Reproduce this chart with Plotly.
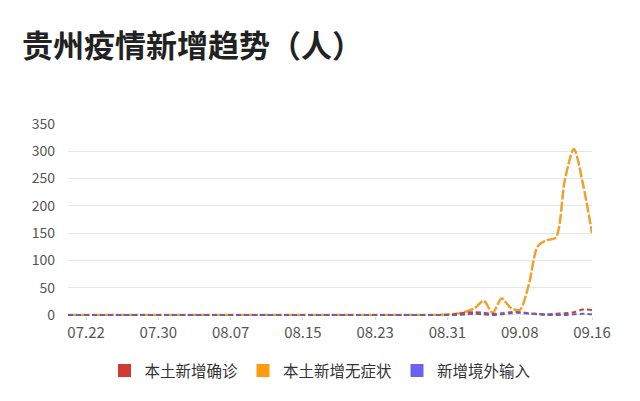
import pandas as pd
import plotly.graph_objects as go

# daily dates 07.20 .. 09.16 (category labels)
dates = list(pd.date_range("2022-07-20", "2022-09-16").strftime("%m.%d"))
tick_labels = ["07.22", "07.30", "08.07", "08.15", "08.23", "08.31", "09.08", "09.16"]

local_confirmed = [
    0, 0, 0, 0, 0, 0, 0, 0, 0, 0,
    0, 0, 0, 0, 0, 0, 0, 0, 0, 0,
    0, 0, 0, 0, 0, 0, 0, 0, 0, 0,
    0, 0, 0, 0, 0, 0, 0, 0, 0, 0,
    0, 0, 0, 2, 4, 5, 4, 2, 3, 5,
    5, 3, 2, 1, 2, 3, 5, 10, 9,
]
local_asymptomatic = [
    0, 0, 0, 0, 0, 0, 0, 0, 0, 0,
    0, 0, 0, 0, 0, 0, 0, 0, 0, 0,
    0, 0, 0, 0, 0, 0, 0, 0, 0, 0,
    0, 0, 0, 0, 0, 0, 0, 0, 0, 0,
    0, 0, 1, 2, 6, 12, 26, 4, 30, 13,
    9, 55, 126, 137, 142, 248, 304, 240, 150,
]
imported = [
    0, 0, 0, 0, 0, 0, 0, 0, 0, 0,
    0, 0, 0, 0, 0, 0, 0, 0, 0, 0,
    0, 0, 0, 0, 0, 0, 0, 0, 0, 0,
    0, 0, 0, 0, 0, 0, 0, 0, 0, 0,
    0, 0, 0, 0, 1, 2, 1, 0, 1, 3,
    4, 2, 1, 0, 0, 0, 1, 2, 1,
]

series = [
    ("本土新增确诊", local_confirmed, "#d43a35", "#c9413c", 2),
    ("本土新增无症状", local_asymptomatic, "#ff9b0f", "#eea22e", 2.5),
    ("新增境外输入", imported, "#6b63f0", "#6a5fb8", 2),
]

fig = go.Figure()

# plot order: asymptomatic underneath, then confirmed, imported on top
for name, vals, mcol, lcol, w in [series[1], series[0], series[2]]:
    dash = "10px,2px" if w > 2 else "5px,3px"
    fig.add_trace(go.Scatter(
        x=dates, y=vals, mode="lines", name=name,
        line=dict(color=lcol, width=w, dash=dash, shape="spline", smoothing=0.8),
        showlegend=False, hoverinfo="skip",
    ))

# legend entries as squares
for name, vals, mcol, lcol, w in series:
    fig.add_trace(go.Scatter(
        x=[None], y=[None], mode="markers", name=name,
        marker=dict(symbol="square", size=13, color=mcol),
    ))

# page body has an 8px margin, so the figure is laid out 8px in from the window
W, H = 632, 393
fig.update_layout(
    width=W, height=H,
    margin=dict(l=60, r=48, t=116, b=76),
    plot_bgcolor="white", paper_bgcolor="white",
    font=dict(family="Noto Sans CJK SC, Noto Sans, sans-serif", color="#555"),
    title=dict(
        text="<b>贵州疫情新增趋势（人）</b>",
        x=14 / W, xanchor="left", xref="container",
        y=1 - 38 / H, yanchor="middle", yref="container",
        font=dict(size=31, color="#222"),
    ),
    legend=dict(
        orientation="h", xref="container", yref="container",
        x=312 / W, xanchor="center", y=1 - 363 / H, yanchor="middle",
        font=dict(size=15.5, color="#333"),
        itemwidth=30, traceorder="normal",
    ),
    xaxis=dict(
        type="category", range=[0, len(dates) - 1],
        tickvals=tick_labels, ticktext=tick_labels,
        showgrid=False, zeroline=False, showline=False,
        ticks="outside", ticklen=3, tickcolor="#ddd",
        tickfont=dict(size=15, color="#555"),
    ),
    yaxis=dict(
        range=[-2, 350], tickvals=[0, 50, 100, 150, 200, 250, 300, 350],
        showgrid=True, gridcolor="#e6e6e6", gridwidth=1,
        zeroline=False, showline=False,
        tickfont=dict(size=14, color="#555"),
        ticklabelstandoff=12,
    ),
)

fig.write_html("out.html")
